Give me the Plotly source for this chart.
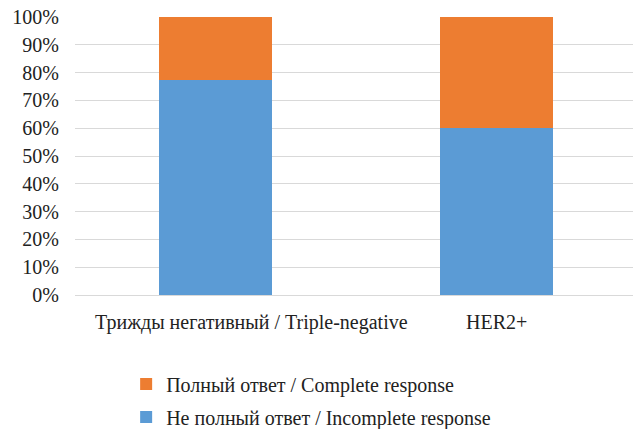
import plotly.graph_objects as go

categories = ["Трижды негативный / Triple-negative", "HER2+"]
incomplete = [77.3, 60.0]
complete = [22.7, 40.0]
series_names = ["Не полный ответ / Incomplete response", "Полный ответ / Complete response"]
tick_vals = [0, 10, 20, 30, 40, 50, 60, 70, 80, 90, 100]
tick_text = [f"{v}%" for v in tick_vals]
label_shift = [36, 0]

font_family = "Times New Roman"
fs = 20

fig = go.Figure()
fig.add_trace(go.Bar(x=categories, y=incomplete, name=series_names[0], legendgroup="a",
                     legendrank=2, marker=dict(color="#5B9BD5", line=dict(width=0))))
fig.add_trace(go.Bar(x=categories, y=complete, name=series_names[1], legendgroup="b",
                     legendrank=1, marker=dict(color="#ED7D31", line=dict(width=0))))

for cat, sh in zip(categories, label_shift):
    fig.add_annotation(x=cat, y=0, xref="x", yref="y", text=cat, showarrow=False,
                       yanchor="top", yshift=-14, xshift=sh,
                       font=dict(family=font_family, size=fs, color="#222222"))

fig.update_layout(
    width=637, height=429,
    barmode="stack", bargap=0.6,
    plot_bgcolor="white", paper_bgcolor="white",
    margin=dict(l=75, r=0, t=17, b=134, autoexpand=False),
    font=dict(family=font_family, size=fs, color="#222222"),
    showlegend=True,
    legend=dict(traceorder="grouped", orientation="v", x=0.091, xanchor="left",
                y=-0.25, yanchor="top", font=dict(family=font_family, size=fs),
                tracegroupgap=4, itemwidth=30),
    xaxis=dict(showgrid=False, showline=False, showticklabels=False,
               automargin=False),
    yaxis=dict(range=[0, 100], tickvals=tick_vals, ticktext=tick_text,
               showgrid=True, gridcolor="#D9D9D9", gridwidth=1,
               zeroline=True, zerolinecolor="#D9D9D9", zerolinewidth=1,
               showline=False, ticks="outside", ticklen=11, tickcolor="rgba(0,0,0,0)",
               tickfont=dict(family=font_family, size=fs), automargin=False),
)

fig.write_html("out.html", config={"displayModeBar": False},
               post_script="document.body.style.margin='0';document.body.style.overflow='hidden';")
